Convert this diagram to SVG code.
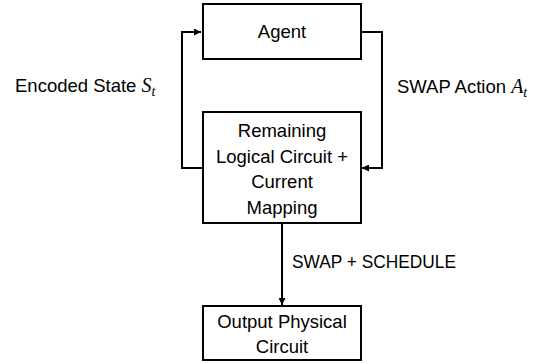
<svg xmlns="http://www.w3.org/2000/svg" width="548" height="364" viewBox="0 0 548 364">
<defs>
<marker id="ah" viewBox="0 0 10 10" refX="10" refY="5" markerWidth="7" markerHeight="7" markerUnits="userSpaceOnUse" orient="auto">
<path d="M0,0 L10,5 L0,10 z" fill="#000"/>
</marker>
<style>
.box{fill:#fff;stroke:#000;stroke-width:2}
.t{font-family:"Liberation Sans",Arial,sans-serif;font-size:18.5px;fill:#000}
.m{font-family:"Liberation Serif","Times New Roman",serif;font-style:italic;fill:#000}
.c{text-anchor:middle}
.ln{fill:none;stroke:#000;stroke-width:2}
</style>
</defs>
<rect width="548" height="364" fill="#fff"/>
<g id="connectors">
<path class="ln" d="M203,168 H182 V32 H201" marker-end="url(#ah)"/>
<path class="ln" d="M361,32 H382 V168 H362" marker-end="url(#ah)"/>
<path class="ln" d="M282,223 V305" marker-end="url(#ah)"/>
<text class="t" x="15" y="92">Encoded State <tspan class="m" font-size="20">S</tspan><tspan class="m" font-size="14" dy="4">t</tspan></text>
<text class="t" x="397" y="93">SWAP Action <tspan class="m" font-size="20">A</tspan><tspan class="m" font-size="14" dy="4">t</tspan></text>
<text class="t" x="292" y="268" textLength="164" lengthAdjust="spacingAndGlyphs">SWAP + SCHEDULE</text>
</g>
<g id="agent">
<rect class="box" x="203" y="4" width="158" height="55"/>
<text class="t c" x="282" y="38" font-size="19.5">Agent</text>
</g>
<g id="state">
<rect class="box" x="203" y="112" width="158" height="111"/>
<text class="t c" x="282" y="137">Remaining</text>
<text class="t c" x="282" y="162.5">Logical Circuit +</text>
<text class="t c" x="282" y="188">Current</text>
<text class="t c" x="282" y="213.5">Mapping</text>
</g>
<g id="output">
<rect class="box" x="203" y="306" width="158" height="54"/>
<text class="t c" x="282" y="328">Output Physical</text>
<text class="t c" x="282" y="353">Circuit</text>
</g>
</svg>
